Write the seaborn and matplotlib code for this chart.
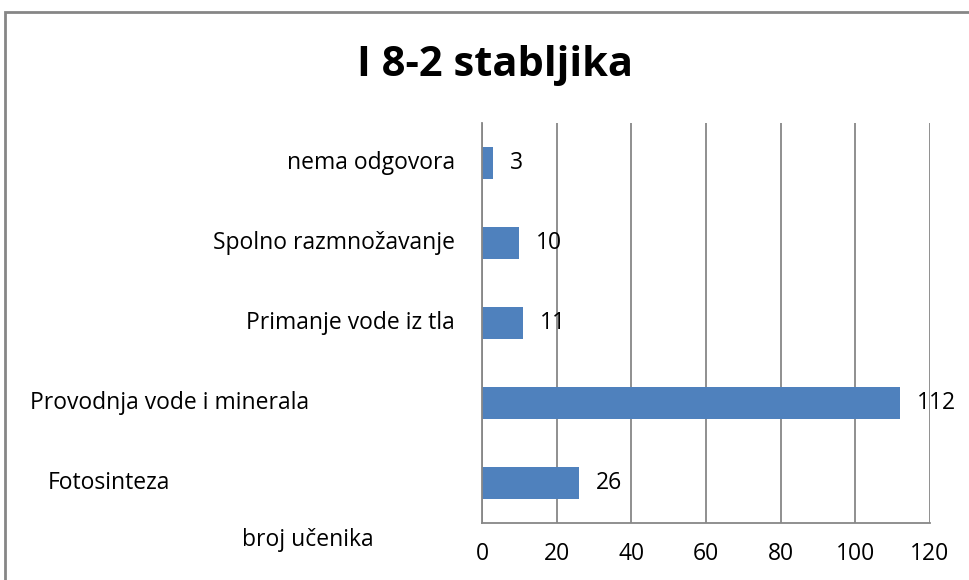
import matplotlib
matplotlib.use("Agg")
import matplotlib.pyplot as plt
import matplotlib.transforms as mtransforms
from matplotlib.patches import Rectangle
import seaborn as sns
import pandas as pd

categories = ["nema odgovora", "Spolno razmnožavanje", "Primanje vode iz tla",
              "Provodnja vode i minerala", "Fotosinteza"]
values = [3, 10, 11, 112, 26]
xticks = [0, 20, 40, 60, 80, 100, 120]
series_name = "broj učenika"
title = "I 8-2 stabljika"

BAR = "#4F81BD"
GRID = "#878787"

sns.set_style("white")
plt.rcParams['font.family'] = ['Open Sans', 'DejaVu Sans']
plt.rcParams['text.color'] = 'black'
plt.rcParams['xtick.color'] = 'black'

df = pd.DataFrame({"kat": categories, "n": values})

fig = plt.figure(figsize=(9.7, 5.8), dpi=100)
ax = fig.add_axes([482/970, 1 - 523/580, (930 - 482)/970, (523 - 123)/580])

sns.barplot(data=df, y="kat", x="n", orient="h", color=BAR, width=0.4,
            saturation=1, linewidth=0, ax=ax)

FS = 16.5

ax.set_xlim(0, 120)
ax.set_xticks(xticks)
ax.set_xticklabels([str(t) for t in xticks], fontsize=FS)
ax.xaxis.grid(True, color=GRID, linewidth=1.3)
ax.yaxis.grid(False)
ax.set_axisbelow(True)
ax.set_xlabel("")
ax.set_ylabel("")

for s in ["top", "right"]:
    ax.spines[s].set_visible(False)
for s in ["left", "bottom"]:
    ax.spines[s].set_color(GRID)
    ax.spines[s].set_linewidth(1.3)

ax.tick_params(axis="x", which="major", length=6, color=GRID, width=1.3,
               pad=8, labelcolor="black")
ax.set_yticks(range(len(categories)))
ax.set_yticklabels([])
ax.tick_params(axis="y", which="major", length=0)
ax.set_yticks([i - 0.5 for i in range(len(categories) + 1)], minor=True)
ax.tick_params(axis="y", which="minor", length=6, color=GRID, width=1.3)

ax.bar_label(ax.containers[0], padding=12, fontsize=FS, color="black")

# category labels (positioned like the original)
trans = mtransforms.blended_transform_factory(fig.transFigure, ax.transData)
label_x = {"Provodnja vode i minerala": (30/970, "left"),
           "Fotosinteza": (48/970, "left")}
for i, c in enumerate(categories):
    x, ha = label_x.get(c, (455/970, "right"))
    ax.text(x, i, c, transform=trans, ha=ha, va="center", fontsize=FS,
            color="black")

fig.text(242/970, 1 - 540/580, series_name, ha="left", va="center",
         fontsize=FS, color="black")
fig.text(495/970, 1 - 65/580, title, ha="center", va="center",
         fontsize=30, fontweight="bold", color="black")

fig.patches.append(Rectangle((5/970, -0.1), 1.2, 1 - 12/580 + 0.1,
                             transform=fig.transFigure, fill=False,
                             edgecolor="#868686", linewidth=2))

fig.savefig("out.png", dpi=100)
